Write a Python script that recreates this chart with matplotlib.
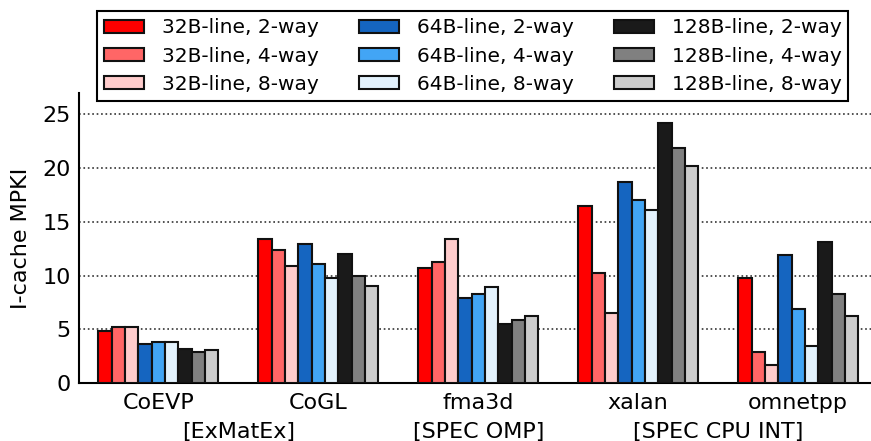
import numpy as np
import matplotlib
matplotlib.use('Agg')
import matplotlib.pyplot as plt

benchmarks = ['CoEVP', 'CoGL', 'fma3d', 'xalan', 'omnetpp']
suites = ['[ExMatEx]', '[SPEC OMP]', '[SPEC CPU INT]']
suite_pos = [0.5, 2.0, 3.5]

configs = ['32B-line, 2-way', '32B-line, 4-way', '32B-line, 8-way',
           '64B-line, 2-way', '64B-line, 4-way', '64B-line, 8-way',
           '128B-line, 2-way', '128B-line, 4-way', '128B-line, 8-way']
colors = ['#ff0000', '#ff6666', '#ffcccc',
          '#1565c0', '#42a5f5', '#e3f2fd',
          '#1a1a1a', '#808080', '#cccccc']

# MPKI per config, one value per benchmark
mpki = [
    [4.8, 13.4, 10.7, 16.5, 9.8],
    [5.2, 12.4, 11.3, 10.2, 2.9],
    [5.2, 10.9, 13.4, 6.5, 1.7],
    [3.6, 12.9, 7.9, 18.7, 11.9],
    [3.8, 11.1, 8.3, 17.0, 6.9],
    [3.8, 9.8, 8.9, 16.1, 3.4],
    [3.2, 12.0, 5.5, 24.2, 13.1],
    [2.9, 10.0, 5.9, 21.9, 8.3],
    [3.1, 9.0, 6.2, 20.2, 6.2],
]

fig = plt.figure(figsize=(8.71, 4.41), dpi=100)
ax = fig.add_axes([0.0907, 0.1315, 0.9093, 0.658])

x = np.arange(len(benchmarks))
w = 1.0 / 12
for i, vals in enumerate(mpki):
    ax.bar(x + (i - 4) * w, vals, w, color=colors[i], edgecolor='#111111',
           linewidth=1.5, label=configs[i], zorder=3)

ax.set_xlim(-0.495, 4.455)
ax.set_ylim(0, 27)
ax.set_yticks([0, 5, 10, 15, 20, 25])
ax.set_xticks(x)
ax.set_xticklabels(benchmarks)
ax.tick_params(length=0, labelsize=16)
ax.tick_params(axis='x', pad=7)
ax.tick_params(axis='y', pad=6)
ax.set_ylabel('I-cache MPKI', fontsize=16, labelpad=8)
ax.yaxis.grid(True, linestyle=':', color='#333333', linewidth=1.2, zorder=0)
ax.spines['top'].set_visible(False)
ax.spines['right'].set_visible(False)
for s in ['left', 'bottom']:
    ax.spines[s].set_linewidth(1.5)

for sx, name in zip(suite_pos, suites):
    ax.text(sx, -0.168, name, transform=ax.get_xaxis_transform(),
            ha='center', va='center', fontsize=16)

leg = fig.legend(loc='upper center', bbox_to_anchor=(0.5425, 0.997), ncol=3,
                 fontsize=14.5, fancybox=False, edgecolor='black',
                 framealpha=1, columnspacing=2.0, handlelength=2.0,
                 handleheight=0.65, handletextpad=0.88, labelspacing=0.45,
                 borderpad=0.35)
leg.get_frame().set_linewidth(1.5)

plt.savefig('out.png', dpi=100)
